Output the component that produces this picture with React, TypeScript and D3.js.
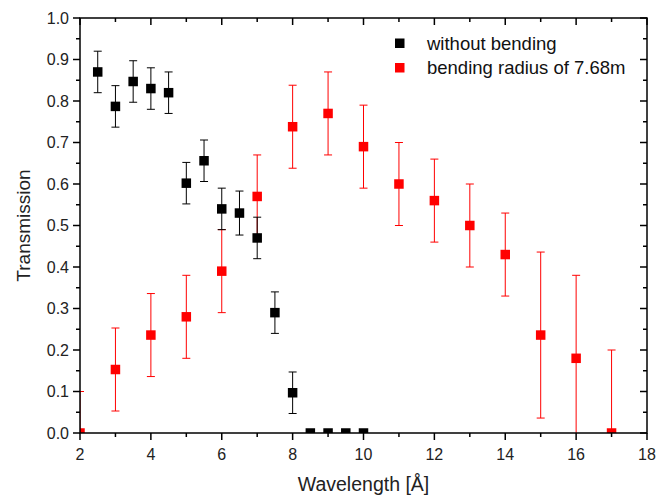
import React from "react";
import * as d3 from "d3";

const blackX = [2.5, 3, 3.5, 4, 4.5, 5, 5.5, 6, 6.5, 7, 7.5, 8, 8.5, 9, 9.5, 10];
const blackY = [0.87, 0.787, 0.847, 0.83, 0.82, 0.602, 0.656, 0.54, 0.53, 0.47, 0.29, 0.097, 0, 0, 0, 0];
const blackErr = [0.05, 0.05, 0.05, 0.05, 0.05, 0.05, 0.05, 0.05, 0.053, 0.05, 0.05, 0.05, 0, 0, 0, 0];

const redX = [2, 3, 4, 5, 6, 7, 8, 9, 10, 11, 12, 13, 14, 15, 16, 17];
const redY = [0, 0.153, 0.236, 0.28, 0.39, 0.57, 0.738, 0.77, 0.69, 0.6, 0.56, 0.5, 0.43, 0.236, 0.18, 0];
const redErr = [0.1, 0.1, 0.1, 0.1, 0.1, 0.1, 0.1, 0.1, 0.1, 0.1, 0.1, 0.1, 0.1, 0.2, 0.2, 0.2];

const xTicks = [2, 4, 6, 8, 10, 12, 14, 16, 18];
const yTicks = [0, 0.1, 0.2, 0.3, 0.4, 0.5, 0.6, 0.7, 0.8, 0.9, 1.0];
const seriesNames = ["without bending", "bending radius of 7.68m"];

const L = 80, R = 647, T = 18, B = 433;
const FONT = "Liberation Sans, Arial, sans-serif";

export default function App() {
  const x = d3.scaleLinear().domain([2, 18]).range([L, R]);
  const y = d3.scaleLinear().domain([0, 1]).range([B, T]);
  const xMinor = d3.range(2, 18.01, 1);
  const yMinor = d3.range(0, 1.001, 0.05);
  const ms = 9.5;
  const cap = 4;

  const series = (xs: number[], ys: number[], es: number[], color: string, key: string) => (
    <g key={key} clipPath="url(#clip)">
      {xs.map((xv, i) =>
        es[i] > 0 ? (
          <g key={"e" + i} stroke={color} strokeWidth={1}>
            <line x1={x(xv)} x2={x(xv)} y1={y(ys[i] - es[i])} y2={y(ys[i] + es[i])} />
            <line x1={x(xv) - cap} x2={x(xv) + cap} y1={y(ys[i] + es[i])} y2={y(ys[i] + es[i])} />
            <line x1={x(xv) - cap} x2={x(xv) + cap} y1={y(ys[i] - es[i])} y2={y(ys[i] - es[i])} />
          </g>
        ) : null
      )}
      {xs.map((xv, i) => (
        <rect key={"m" + i} x={x(xv) - ms / 2} y={y(ys[i]) - ms / 2} width={ms} height={ms} fill={color} />
      ))}
    </g>
  );

  return (
    <svg width={660} height={500} style={{ position: "absolute", left: 0, top: 0 }} fontFamily={FONT}>
      <defs>
        <clipPath id="clip">
          <rect x={L} y={T} width={R - L} height={B - T} />
        </clipPath>
      </defs>
      <rect width={660} height={500} fill="white" />
      {series(redX, redY, redErr, "#ff0000", "red")}
      {series(blackX, blackY, blackErr, "#000000", "black")}

      <rect x={L} y={T} width={R - L} height={B - T} fill="none" stroke="#000" strokeWidth={1.5} />

      {xMinor.map((v) => {
        const major = Math.abs(v % 2) < 1e-6;
        const len = major ? 7 : 4;
        return (
          <g key={"xt" + v} stroke="#000" strokeWidth={1.5}>
            <line x1={x(v)} x2={x(v)} y1={B} y2={B + len} />
            <line x1={x(v)} x2={x(v)} y1={T} y2={T + len} />
          </g>
        );
      })}
      {yMinor.map((v, i) => {
        const major = i % 2 === 0;
        const len = major ? 7 : 4;
        return (
          <g key={"yt" + i} stroke="#000" strokeWidth={1.5}>
            <line x1={L - len} x2={L} y1={y(v)} y2={y(v)} />
            <line x1={R - len} x2={R} y1={y(v)} y2={y(v)} />
          </g>
        );
      })}

      {xTicks.map((v) => (
        <text key={"xl" + v} x={x(v)} y={B + 27} textAnchor="middle" fontSize={16} fill="#222">
          {v}
        </text>
      ))}
      {yTicks.map((v) => (
        <text key={"yl" + v} x={L - 11} y={y(v) + 5.5} textAnchor="end" fontSize={16} fill="#222">
          {v.toFixed(1)}
        </text>
      ))}

      <text x={(L + R) / 2} y={491} textAnchor="middle" fontSize={19.5} fill="#222">
        Wavelength [Å]
      </text>
      <text transform={`translate(30,${(T + B) / 2}) rotate(-90)`} textAnchor="middle" fontSize={19} fill="#222">
        Transmission
      </text>

      <rect x={395} y={38.5} width={9.5} height={9.5} fill="#000" />
      <text x={427} y={50} fontSize={18.5} fill="#111">{seriesNames[0]}</text>
      <rect x={395} y={63} width={9.5} height={9.5} fill="#ff0000" />
      <text x={427} y={74} fontSize={18.5} fill="#111">{seriesNames[1]}</text>
    </svg>
  );
}
